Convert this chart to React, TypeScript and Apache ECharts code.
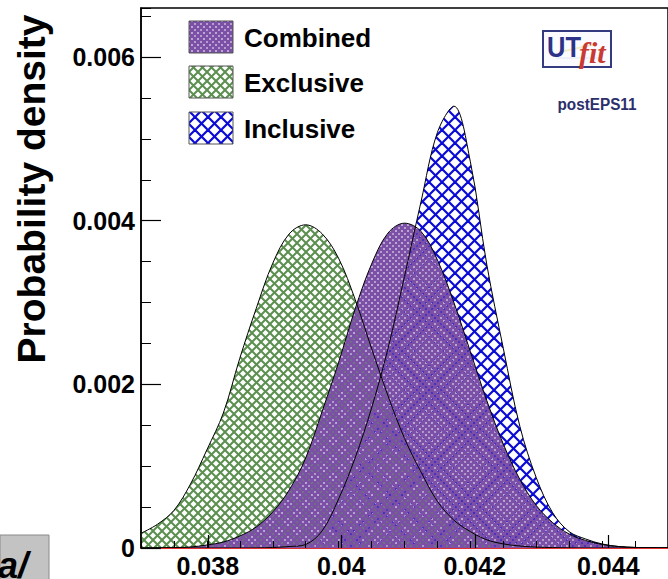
import React, { useEffect, useRef } from "react";
import * as echarts from "echarts";

// x positions of the sampled density points
const xValues = [
  0.037, 0.03725, 0.0375, 0.03775, 0.038, 0.03825, 0.0385, 0.03875, 0.039, 0.03925,
  0.0395, 0.03975, 0.04, 0.04025, 0.0405, 0.04075, 0.041, 0.04125, 0.0415, 0.04175,
  0.042, 0.04225, 0.0425, 0.04275, 0.043, 0.04325, 0.0435, 0.04375, 0.044, 0.04425,
  0.0445, 0.04475, 0.045,
];

const exclusive = [
  0.00018, 0.00029, 0.00046, 0.00078, 0.0012, 0.00165, 0.00232, 0.00293, 0.00348, 0.00384,
  0.00395, 0.00384, 0.00354, 0.00304, 0.00244, 0.00186, 0.00134, 0.00093, 0.00057, 0.00034,
  0.0002, 0.0001, 0.00005, 0.000024, 0.000011, 0.000005, 0.000002, 0, 0, 0,
  0, 0, 0,
];

const combined = [
  0, 0.000002, 0.000005, 0.000012, 0.000037, 0.000073, 0.000147, 0.000257, 0.00044, 0.00071,
  0.0011, 0.00167, 0.00227, 0.00292, 0.00347, 0.00385, 0.00397, 0.00387, 0.00352, 0.003,
  0.0024, 0.0018, 0.00127, 0.00084, 0.00052, 0.00031, 0.00017, 0.000092, 0.000043, 0.000018,
  0.000007, 0.000003, 0.000001,
];

const inclusive = [
  0, 0, 0, 0, 0, 0, 0, 0.000001, 0.000006, 0.000018,
  0.000043, 0.00021, 0.0006, 0.0011, 0.00171, 0.00244, 0.00332, 0.00423, 0.00508, 0.0054,
  0.00472, 0.00346, 0.00244, 0.00149, 0.00086, 0.00043, 0.0002, 0.00011, 0.000049, 0.000018,
  0.000007, 0.000002, 0,
];

const xTickLabels = ["0.038", "0.04", "0.042", "0.044"];
const yTickLabels = ["0", "0.002", "0.004", "0.006"];
const legendNames = ["Combined", "Exclusive", "Inclusive"];

const PURPLE = "#7b50a6";
const GREEN = "#5c8f50";
const BLUE = "#0a0ad6";
const FONT = '"Liberation Sans", Arial, Helvetica, sans-serif';

function hatch(size: number, lw: number, color: string) {
  const cv = document.createElement("canvas");
  cv.width = size;
  cv.height = size;
  const ctx = cv.getContext("2d")!;
  ctx.strokeStyle = color;
  ctx.lineWidth = lw;
  for (const o of [-size, 0, size]) {
    ctx.beginPath();
    ctx.moveTo(o, 0);
    ctx.lineTo(o + size, size);
    ctx.stroke();
    ctx.beginPath();
    ctx.moveTo(o + size, 0);
    ctx.lineTo(o, size);
    ctx.stroke();
  }
  return {
    image: cv.toDataURL(),
    repeat: "repeat",
    imageWidth: size,
    imageHeight: size,
  } as any;
}

export default function App() {
  const ref = useRef<HTMLDivElement>(null);

  useEffect(() => {
    document.body.style.margin = "0";
    const chart = echarts.init(ref.current!, null, { renderer: "svg" });

    const pPurple = hatch(6, 2.9, PURPLE);
    const pGreen = hatch(9, 2, GREEN);
    const pBlue = hatch(13, 2.2, BLUE);
    const patterns = [pPurple, pGreen, pBlue];

    const mk = (name: string, vals: number[], pat: any) => ({
      type: "line",
      name,
      xAxisIndex: 0,
      yAxisIndex: 0,
      data: xValues.map((x, i) => [x, vals[i]]),
      smooth: 0.35,
      symbol: "none",
      showSymbol: false,
      lineStyle: { color: "#000", width: 1 },
      areaStyle: { color: pat, opacity: 1 },
      silent: true,
    });

    const labelStyle = {
      fontFamily: FONT,
      fontWeight: "bold",
      fontSize: 25,
      color: "#000",
    };

    const legendGraphics: any[] = [];
    const legendY = [21, 66, 112];
    legendNames.forEach((n, i) => {
      legendGraphics.push({
        type: "rect",
        shape: { x: 189, y: legendY[i], width: 44, height: 32 },
        style: { fill: patterns[i], stroke: "#555", lineWidth: 1 },
        z: 10,
      });
      legendGraphics.push({
        type: "text",
        x: 244,
        y: legendY[i] + 17,
        style: {
          text: n,
          fontFamily: FONT,
          fontWeight: "bold",
          fontSize: 26,
          fill: "#000",
          align: "left",
          verticalAlign: "middle",
        },
        z: 10,
      });
    });

    chart.setOption({
      animation: false,
      backgroundColor: "#fff",
      grid: [
        { left: 141, right: -7, top: 8, bottom: 31, show: true, borderColor: "#000", borderWidth: 1.5, backgroundColor: "transparent" },
        { left: 207.75, right: 59.75, top: 8, bottom: 31, show: false },
        { left: 141, right: -7, top: 57.1, bottom: 31, show: false },
      ],
      xAxis: [
        {
          gridIndex: 0, type: "value", min: 0.037, max: 0.045, interval: 0.0005, z: 5,
          axisLine: { show: true, onZero: false, lineStyle: { color: "#e03030", width: 1 } },
          axisTick: { show: true, inside: true, length: 7, lineStyle: { color: "#000", width: 1 } },
          axisLabel: { show: false },
          splitLine: { show: false },
        },
        {
          gridIndex: 1, type: "value", min: 0.038, max: 0.044, interval: 0.002, z: 5,
          axisLine: { show: false, onZero: false },
          axisTick: { show: true, inside: true, length: 13, lineStyle: { color: "#000", width: 1.2 } },
          axisLabel: {
            show: true, margin: 5, ...labelStyle,
            formatter: (v: number) => xTickLabels[Math.round((v - 0.038) / 0.002)] ?? "",
          },
          splitLine: { show: false },
        },
        { gridIndex: 2, type: "value", min: 0.037, max: 0.045, show: false },
      ],
      yAxis: [
        {
          gridIndex: 0, type: "value", min: 0, max: 0.0066, interval: 0.0005, z: 5,
          axisLine: { show: true, lineStyle: { color: "#000", width: 1.5 } },
          axisTick: { show: true, inside: true, length: 10, lineStyle: { color: "#000", width: 1 } },
          axisLabel: { show: false },
          splitLine: { show: false },
        },
        { gridIndex: 1, type: "value", min: 0, max: 1, show: false },
        {
          gridIndex: 2, type: "value", min: 0, max: 0.006, interval: 0.002, z: 5,
          axisLine: { show: false },
          axisTick: { show: true, inside: true, length: 20, lineStyle: { color: "#000", width: 1.2 } },
          axisLabel: {
            show: true, margin: 6, ...labelStyle,
            formatter: (v: number) => yTickLabels[Math.round(v / 0.002)] ?? "",
          },
          splitLine: { show: false },
        },
      ],
      series: [
        mk("Inclusive", inclusive, pBlue),
        mk("Exclusive", exclusive, pGreen),
        mk("Combined", combined, pPurple),
      ],
      graphic: [
        {
          type: "text",
          x: 31,
          y: 189,
          rotation: Math.PI / 2,
          style: {
            text: "Probability density",
            fontFamily: FONT,
            fontWeight: "bold",
            fontSize: 39,
            fill: "#000",
            align: "center",
            verticalAlign: "middle",
          },
        },
        ...legendGraphics,
        {
          type: "rect",
          shape: { x: 543, y: 31, width: 68, height: 36 },
          style: { fill: "#fbfbff", stroke: "#333a80", lineWidth: 2 },
          z: 10,
        },
        {
          type: "line",
          shape: { x1: 556, y1: 58, x2: 600, y2: 58 },
          style: { stroke: "#dfe6f2", lineWidth: 1 },
          z: 10,
        },
        {
          type: "line",
          shape: { x1: 560, y1: 52, x2: 596, y2: 44 },
          style: { stroke: "#f2ecc8", lineWidth: 2 },
          z: 10,
        },
        {
          type: "text",
          x: 547,
          y: 47,
          scaleX: 0.85,
          style: {
            text: "UT",
            fontFamily: FONT,
            fontWeight: "bold",
            fontSize: 30,
            fill: "#2b3287",
            align: "left",
            verticalAlign: "middle",
          },
          z: 11,
        },
        {
          type: "text",
          x: 579,
          y: 52,
          style: {
            text: "fit",
            fontFamily: '"Liberation Serif", "DejaVu Serif", serif',
            fontWeight: "bold",
            fontStyle: "italic",
            fontSize: 30,
            fill: "#c83a32",
            align: "left",
            verticalAlign: "middle",
          },
          z: 11,
        },
        {
          type: "text",
          x: 597,
          y: 104,
          scaleX: 0.9,
          style: {
            text: "postEPS11",
            fontFamily: FONT,
            fontWeight: "bold",
            fontSize: 17,
            fill: "#2c2f6b",
            align: "center",
            verticalAlign: "middle",
          },
          z: 10,
        },
        {
          type: "rect",
          shape: { x: 0, y: 535, width: 49, height: 50 },
          style: { fill: "#c3c3c3", stroke: "#8a8a8a", lineWidth: 1 },
          z: 10,
        },
        {
          type: "text",
          x: -2,
          y: 583,
          style: {
            text: "a/",
            fontFamily: FONT,
            fontWeight: "bold",
            fontStyle: "italic",
            fontSize: 36,
            fill: "#000",
            align: "left",
            verticalAlign: "bottom",
          },
          z: 11,
        },
      ],
    });

    return () => chart.dispose();
  }, []);

  return <div ref={ref} style={{ width: 668, height: 579 }} />;
}
